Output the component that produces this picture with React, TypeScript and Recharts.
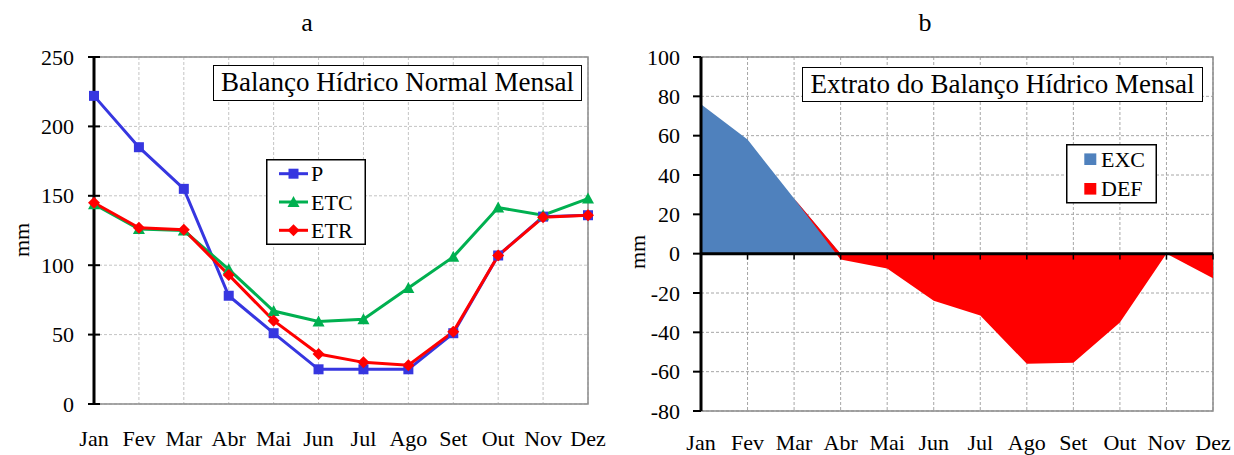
import React from 'react';
import {
  LineChart,
  Line,
  AreaChart,
  Area,
  XAxis,
  YAxis,
  CartesianGrid,
  ReferenceArea,
  ReferenceLine,
  Legend
} from 'recharts';

const FONT = '"Liberation Serif", "Times New Roman", serif';

// monthly series (mm)
const MONTHS = ['Jan', 'Fev', 'Mar', 'Abr', 'Mai', 'Jun', 'Jul', 'Ago', 'Set', 'Out', 'Nov', 'Dez'];
const P = [222, 185, 155, 78, 51, 25, 25, 25, 51, 107, 135, 136];
const ETC = [144, 126, 125, 97, 67, 59.5, 61, 83.5, 106, 141.5, 136, 148];
const ETR = [145, 127, 125.5, 93, 60, 36, 30, 28, 52, 107, 134.5, 136];
const EXC = [76, 58, 28, 0, 0, 0, 0, 0, 0, 0, 0, 0];
const DEF = [0, 0, 0, -3, -7.5, -24, -31.5, -56, -55.5, -35, 0, -12.5];

const TICKS_A = [0, 50, 100, 150, 200, 250];
const TICKS_B = [-80, -60, -40, -20, 0, 20, 40, 60, 80, 100];

const BLUE = '#3636E0';
const GREEN = '#00B050';
const RED = '#FF0000';
const EXC_BLUE = '#4F81BD';

const SERIES_A = [
  { key: 'P', color: BLUE, shape: 'square' },
  { key: 'ETC', color: GREEN, shape: 'triangle' },
  { key: 'ETR', color: RED, shape: 'diamond' }
];
const SERIES_B = [
  { key: 'EXC', color: EXC_BLUE },
  { key: 'DEF', color: RED }
];

const dataA = MONTHS.map((m, i) => ({ m, P: P[i], ETC: ETC[i], ETR: ETR[i] }));
const dataB = MONTHS.map((m, i) => ({ m, EXC: EXC[i], DEF: DEF[i] }));

const marker = (shape: string, cx: number, cy: number, color: string, key?: any) => {
  if (shape === 'square') {
    return <rect key={key} x={cx - 5} y={cy - 5} width={10} height={10} fill={color} />;
  }
  if (shape === 'triangle') {
    return <polygon key={key} points={`${cx},${cy - 6} ${cx + 6},${cy + 5} ${cx - 6},${cy + 5}`} fill={color} />;
  }
  return <polygon key={key} points={`${cx},${cy - 6} ${cx + 6},${cy} ${cx},${cy + 6} ${cx - 6},${cy}`} fill={color} />;
};

const MonthTick = (props: any) => {
  const { x, y, payload, dy } = props;
  return (
    <text x={x} y={y + dy} textAnchor="middle" fontSize={22} fontFamily={FONT} fill="#000">
      {payload.value}
    </text>
  );
};

const CrossTick = (props: any) => {
  const { x, y, payload } = props;
  return (
    <g>
      <line x1={x - 6} x2={x + 6} y1={y} y2={y} stroke="#000" strokeWidth={2} />
      <text x={x - 20} y={y + 7.5} textAnchor="end" fontSize={22} fontFamily={FONT} fill="#000">
        {payload.value}
      </text>
    </g>
  );
};

const OutTick = (props: any) => {
  const { x, y, payload } = props;
  return (
    <g>
      <line x1={x - 8} x2={x} y1={y} y2={y} stroke="#000" strokeWidth={2} />
      <text x={x - 21} y={y + 7.5} textAnchor="end" fontSize={22} fontFamily={FONT} fill="#000">
        {payload.value}
      </text>
    </g>
  );
};

const LegendA = () => (
  <svg width={100} height={86} style={{ display: 'block' }}>
    <rect x={0.75} y={0.75} width={98.5} height={84.5} fill="#fff" stroke="#000" strokeWidth={1.5} />
    {SERIES_A.map((s, i) => {
      const cy = 14.7 + i * 28.3;
      return (
        <g key={s.key}>
          <line x1={13} x2={42} y1={cy} y2={cy} stroke={s.color} strokeWidth={3} />
          {marker(s.shape, 27.5, cy, s.color)}
          <text x={45} y={cy + 7.5} fontSize={22} fontFamily={FONT} fill="#000">{s.key}</text>
        </g>
      );
    })}
  </svg>
);

const LegendB = () => (
  <svg width={91} height={60} style={{ display: 'block' }}>
    <rect x={0.75} y={0.75} width={89.5} height={58} fill="#fff" stroke="#000" strokeWidth={1.5} />
    {SERIES_B.map((s, i) => {
      const cy = 15.2 + i * 29.6;
      return (
        <g key={s.key}>
          <rect x={18.3} y={cy - 5.8} width={12} height={11.6} fill={s.color} />
          <text x={35} y={cy + 7.5} fontSize={22} fontFamily={FONT} fill="#000">{s.key}</text>
        </g>
      );
    })}
  </svg>
);

const titleBox = (left: number, top: number, width: number, height: number): React.CSSProperties => ({
  position: 'absolute',
  left,
  top,
  width,
  height,
  boxSizing: 'border-box',
  border: '1.5px solid #000',
  background: '#fff',
  fontSize: 27,
  lineHeight: `${height - 3}px`,
  textAlign: 'center',
  whiteSpace: 'nowrap',
  fontFamily: FONT
});

const letter = (left: number): React.CSSProperties => ({
  position: 'absolute',
  left,
  top: 10,
  width: 40,
  textAlign: 'center',
  fontSize: 26,
  lineHeight: '26px',
  fontFamily: FONT
});

const ChartA = () => (
  <div style={{ position: 'absolute', left: 0, top: 0, width: 620, height: 455 }}>
    <LineChart width={620} height={455} data={dataA} margin={{ top: 57, right: 32, bottom: 0, left: 34 }}>
      <CartesianGrid stroke="#c4c4c4" strokeDasharray="3 2" />
      <ReferenceArea x1="Jan" x2="Dez" y1={0} y2={250} fill="none" stroke="#8c8c8c" strokeWidth={1.5} />
      <XAxis dataKey="m" height={51} tickSize={0} tickMargin={0} axisLine={false} interval={0} tick={<MonthTick dy={41.5} />} />
      <YAxis
        domain={[0, 250]}
        ticks={TICKS_A}
        width={60}
        tickSize={0}
        tickMargin={0}
        interval={0}
        axisLine={{ stroke: '#000', strokeWidth: 3 }}
        tick={<CrossTick />}
      />
      <Legend
        layout="vertical"
        align="center"
        verticalAlign="middle"
        content={() => <LegendA />}
        wrapperStyle={{ left: 265.7, top: 159.3, width: 100, height: 86 }}
      />
      {SERIES_A.map((s) => (
        <Line
          key={s.key}
          type="linear"
          dataKey={s.key}
          stroke={s.color}
          strokeWidth={3}
          isAnimationActive={false}
          dot={(p: any) => marker(s.shape, p.cx, p.cy, s.color, `${s.key}-${p.index}`)}
          activeDot={false}
        />
      ))}
    </LineChart>
    <div style={titleBox(213, 65, 369, 36)}>Balanço Hídrico Normal Mensal</div>
    <div style={{ position: 'absolute', left: -4, top: 240, transform: 'translate(-50%, -50%) rotate(-90deg)', fontSize: 22, fontFamily: FONT, marginLeft: 26 }}>mm</div>
  </div>
);

const ChartB = () => (
  <div style={{ position: 'absolute', left: 620, top: 0, width: 614, height: 455 }}>
    <AreaChart width={614} height={455} data={dataB} margin={{ top: 57, right: 21, bottom: 0, left: 21 }}>
      <CartesianGrid stroke="#a6a6a6" strokeDasharray="3 2" />
      <ReferenceArea x1="Jan" x2="Dez" y1={-80} y2={100} fill="none" stroke="#8c8c8c" strokeWidth={1.5} />
      <XAxis dataKey="m" height={44} tickSize={0} tickMargin={0} axisLine={false} interval={0} tick={<MonthTick dy={39} />} />
      <YAxis
        domain={[-80, 100]}
        ticks={TICKS_B}
        width={60}
        tickSize={0}
        tickMargin={0}
        interval={0}
        axisLine={{ stroke: '#000', strokeWidth: 3 }}
        tick={<OutTick />}
      />
      <Legend
        layout="vertical"
        align="center"
        verticalAlign="middle"
        content={() => <LegendB />}
        wrapperStyle={{ left: 445.7, top: 144.3, width: 91, height: 60 }}
      />
      {SERIES_B.map((s) => (
        <Area
          key={s.key}
          type="linear"
          dataKey={s.key}
          stackId="1"
          stroke="none"
          fill={s.color}
          fillOpacity={1}
          isAnimationActive={false}
          activeDot={false}
        />
      ))}
      <ReferenceLine y={0} stroke="#000" strokeWidth={3} />
      {MONTHS.map((m) => (
        <ReferenceLine key={m} segment={[{ x: m, y: 0 }, { x: m, y: -3 }]} stroke="#000" strokeWidth={1.5} />
      ))}
    </AreaChart>
    <div style={titleBox(182, 67, 401, 35)}>Extrato do Balanço Hídrico Mensal</div>
    <div style={{ position: 'absolute', left: 18, top: 252, transform: 'translate(-50%, -50%) rotate(-90deg)', fontSize: 22, fontFamily: FONT }}>mm</div>
  </div>
);

export default function App() {
  return (
    <div style={{ position: 'absolute', left: 0, top: 0, width: 1234, height: 455, background: '#fff', fontFamily: FONT, overflow: 'hidden' }}>
      <div style={letter(287)}>a</div>
      <div style={letter(905)}>b</div>
      <ChartA />
      <ChartB />
    </div>
  );
}
